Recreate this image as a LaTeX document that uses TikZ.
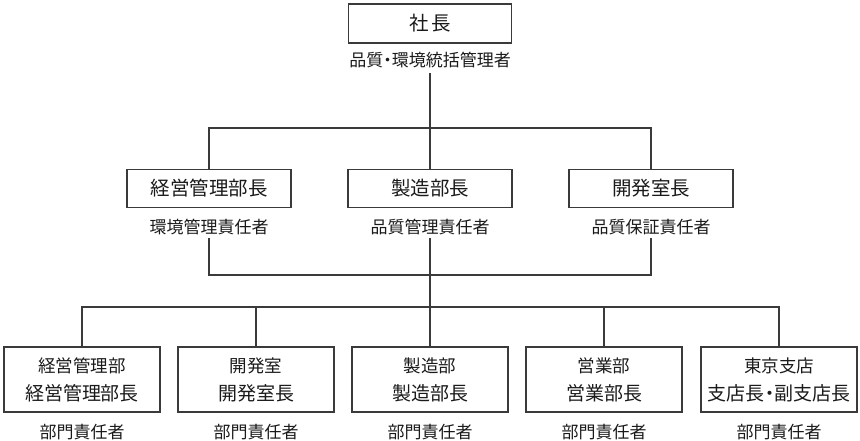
\documentclass[tikz,border=0pt]{standalone}
\usepackage{fontspec}
\setmainfont{Noto Sans CJK JP}
\definecolor{linec}{HTML}{3A3A3A}
\definecolor{txt}{HTML}{1A1A1A}
\newcommand{\ndot}{\makebox[0.5em]{・}}
\begin{document}
\begin{tikzpicture}[x=1pt,y=-1pt,
  every node/.style={text=txt},
  conn/.style={draw=linec, line width=1.2pt},
  topbox/.style={draw=linec, line width=1.2pt, inner sep=0pt, minimum width=163pt, minimum height=39pt, font=\fontsize{19.5}{20}\selectfont},
  midbox/.style={draw=linec, line width=1.2pt, inner sep=0pt, minimum width=164pt, minimum height=38pt, font=\fontsize{19.5}{20}\selectfont},
  botbox/.style={draw=linec, line width=1.2pt, inner sep=0pt, minimum width=156pt, minimum height=65pt},
  lineA/.style={inner sep=0pt, font=\fontsize{17.5}{18}\selectfont},
  lineB/.style={inner sep=0pt, font=\fontsize{19}{20}\selectfont},
  sub/.style={inner sep=0pt, font=\fontsize{17}{17}\selectfont}
]
\useasboundingbox (0,0) rectangle (860,440);

% top
\node[topbox] (ceo) at (430,23.5) {社\hspace{3pt}長};
\node[sub] (ceol) at (430,60) {品質\ndot 環境統括管理者};

% middle
\node[midbox] (m1) at (209,188.5) {経営管理部長};
\node[midbox] (m2) at (430,188.5) {製造部長};
\node[midbox] (m3) at (651,188.5) {開発室長};
\node[sub] (m1l) at (209,227) {環境管理責任者};
\node[sub] (m2l) at (430,227) {品質管理責任者};
\node[sub] (m3l) at (651,227) {品質保証責任者};

% bottom
\node[botbox] (b1) at (82,379.5) {};
\node[botbox] (b2) at (256,379.5) {};
\node[botbox] (b3) at (430,379.5) {};
\node[botbox] (b4) at (604,379.5) {};
\node[botbox] (b5) at (779,379.5) {};
\node[lineA] (b1a) at (82,366) {経営管理部};
\node[lineB] (b1b) at (82,393) {経営管理部長};
\node[lineA] (b2a) at (256,366) {開発室};
\node[lineB] (b2b) at (256,393) {開発室長};
\node[lineA] (b3a) at (430,366) {製造部};
\node[lineB] (b3b) at (430,393) {製造部長};
\node[lineA] (b4a) at (604,366) {営業部};
\node[lineB] (b4b) at (604,393) {営業部長};
\node[lineA] (b5a) at (779,366) {東京支店};
\node[lineB] (b5b) at (779,393) {支店長\ndot 副支店長};
\node[sub] (b1l) at (82,432) {部門責任者};
\node[sub] (b2l) at (256,432) {部門責任者};
\node[sub] (b3l) at (430,432) {部門責任者};
\node[sub] (b4l) at (604,432) {部門責任者};
\node[sub] (b5l) at (779,432) {部門責任者};

% junctions
\coordinate (j1) at (430,128);
\coordinate (j2) at (430,275);
\coordinate (j3) at (430,307);
\coordinate (s1) at (209,238);
\coordinate (s2) at (430,238);
\coordinate (s3) at (651,238);
\coordinate (s0) at (430,73);

\draw[conn] (s0) -- (j1);
\draw[conn] (m1.north) |- (j1) -| (m3.north);
\draw[conn] (j1) -- (m2.north);
\draw[conn] (s1) |- (j2) -| (s3);
\draw[conn] (s2) -- (j3);
\draw[conn] (b1.north) |- (j3) -| (b5.north);
\draw[conn] (b2.north) -- (b2.north |- j3);
\draw[conn] (b3.north) -- (j3);
\draw[conn] (b4.north) -- (b4.north |- j3);
\end{tikzpicture}
\end{document}
